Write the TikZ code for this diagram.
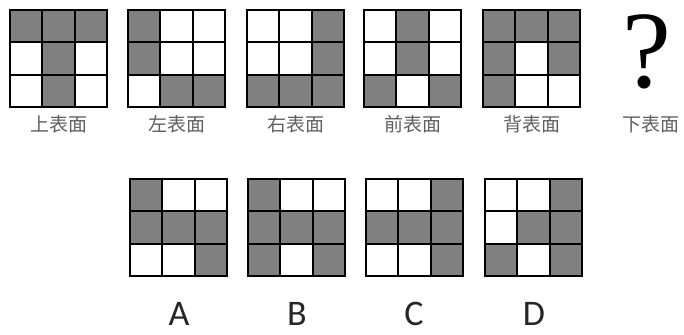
\documentclass[tikz,border=0pt]{standalone}
\usepackage{fontspec}
\newfontfamily\cjk{Noto Sans CJK SC}
\newfontfamily\latinsans{Carlito}
\newfontfamily\qserif{Liberation Serif}
\definecolor{cellgray}{RGB}{128,128,128}
\definecolor{labelgray}{RGB}{95,95,95}
\newcommand\cs{32.33}
\newcommand\drawface[3]{%
  \foreach \v [count=\i from 0] in {#3} {
    \pgfmathtruncatemacro\rr{div(\i,3)}
    \pgfmathtruncatemacro\cc{mod(\i,3)}
    \ifnum\v=1
      \fill[cellgray] ({#1+\cc*\cs},{#2+\rr*\cs}) rectangle ++(\cs,\cs);
    \fi
  }
  \foreach \k in {1,2} {
    \draw[innerline] ({#1+\k*\cs},#2) -- ++(0,3*\cs);
    \draw[innerline] (#1,{#2+\k*\cs}) -- ++(3*\cs,0);
  }
  \draw[outerline] (#1,#2) rectangle ++(3*\cs,3*\cs);
}
\begin{document}
\begin{tikzpicture}[x=1pt,y=-1pt,
  innerline/.style={line width=2pt,black},
  outerline/.style={line width=2.8pt,black},
  toplabel/.style={font=\cjk\fontsize{19}{19}\selectfont,text=labelgray,inner sep=0pt},
  optlabel/.style={font=\latinsans\fontsize{36}{36}\selectfont,text=black!85,inner sep=0pt,anchor=base}]
\useasboundingbox[fill=white] (0,0) rectangle (684,334);
% top row faces
\drawface{10}{10}{1,1,1,0,1,0,0,1,0}
\drawface{128}{10}{1,0,0,1,0,0,0,1,1}
\drawface{247}{10}{0,0,1,0,0,1,1,1,1}
\drawface{364}{10}{0,1,0,0,1,0,1,0,1}
\drawface{483}{10}{1,1,1,1,0,1,1,0,0}
\node[font=\qserif\fontsize{110}{110}\selectfont,inner sep=0pt,anchor=base] (q) at (647,88) {?};
\node[toplabel] (l1) at (59,124) {上表面};
\node[toplabel] (l2) at (177,124) {左表面};
\node[toplabel] (l3) at (296,124) {右表面};
\node[toplabel] (l4) at (412.5,124) {前表面};
\node[toplabel] (l5) at (531.5,124) {背表面};
\node[toplabel] (l6) at (651,124) {下表面};
% options
\drawface{130}{179}{1,0,0,1,1,1,0,0,1}
\drawface{248}{179}{1,0,0,1,1,1,1,0,1}
\drawface{366}{179}{0,0,1,1,1,1,0,0,1}
\drawface{485}{179}{0,0,1,0,1,1,1,0,1}
\node[optlabel] (oa) at (179,325) {A};
\node[optlabel] (ob) at (297,325) {B};
\node[optlabel] (oc) at (414,325) {C};
\node[optlabel] (od) at (534,325) {D};
\end{tikzpicture}
\end{document}
